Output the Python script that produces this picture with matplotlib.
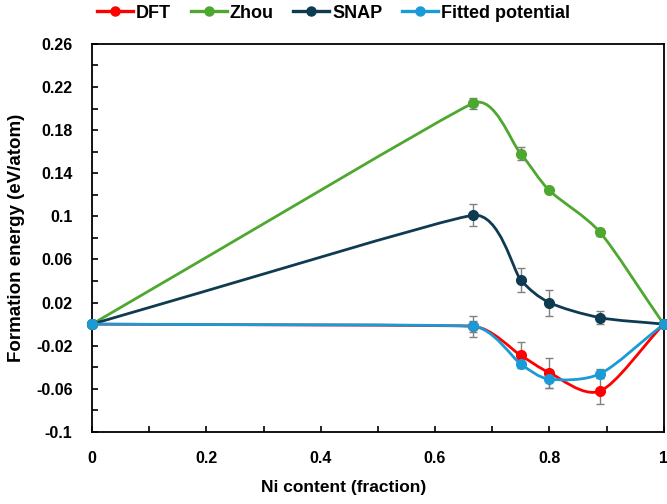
import numpy as np
import matplotlib.pyplot as plt
from matplotlib.path import Path
from matplotlib.patches import PathPatch
from matplotlib.lines import Line2D

plt.rcParams['font.family'] = ['Liberation Sans', 'DejaVu Sans']
plt.rcParams['font.weight'] = 'bold'

ni = [0, 0.667, 0.75, 0.8, 0.889, 1]

dft = [0, -0.002, -0.029, -0.045, -0.062, 0]
zhou = [0, 0.205, 0.158, 0.124, 0.085, 0]
snap = [0, 0.101, 0.041, 0.020, 0.006, 0]
fitted = [0, -0.002, -0.037, -0.051, -0.046, 0]

dft_err = [0, 0.010, 0.012, 0.014, 0.012, 0]
zhou_err = [0, 0.005, 0.006, 0, 0.003, 0]
snap_err = [0, 0.010, 0.011, 0.012, 0.006, 0]
fitted_err = [0, 0.005, 0.003, 0.008, 0.004, 0]

names = ['DFT', 'Zhou', 'SNAP', 'Fitted potential']
colors = ['#FF0000', '#4EA72E', '#0E3B52', '#1A9BD7']


def smooth_path(x, y, sx=573.0, sy=1075.0):
    # cubic bezier through the points; handle length limited by the
    # shorter neighbouring segment so long spans stay nearly straight
    p = np.column_stack([np.asarray(x) * sx, np.asarray(y) * sy])
    n = len(p)
    seg = [np.hypot(*(p[i + 1] - p[i])) for i in range(n - 1)]
    tang, hl = [], []
    for i in range(n):
        d = p[min(i + 1, n - 1)] - p[max(i - 1, 0)]
        tang.append(d / np.hypot(*d))
        near = [seg[j] for j in (i - 1, i) if 0 <= j < n - 1]
        hl.append(min(near) / 3.0)
    verts = [p[0]]
    codes = [Path.MOVETO]
    for i in range(n - 1):
        verts += [p[i] + tang[i] * hl[i], p[i + 1] - tang[i + 1] * hl[i + 1], p[i + 1]]
        codes += [Path.CURVE4] * 3
    verts = np.array(verts) / [sx, sy]
    return Path(verts, codes)


fig = plt.figure(figsize=(6.67, 5.04), dpi=100)
ax = fig.add_axes([0.138, 0.143, 0.857, 0.770])

series = [dft, zhou, snap, fitted]
errs = [dft_err, zhou_err, snap_err, fitted_err]
for vals, err, c in zip(series, errs, colors):
    ax.add_patch(PathPatch(smooth_path(ni, vals), fill=False, edgecolor=c,
                           lw=2.0, zorder=2, capstyle='round'))
    ax.errorbar(ni, vals, yerr=err, fmt='none', ecolor='#808080',
                elinewidth=1.0, capsize=3, capthick=1.0, zorder=3)
    ax.plot(ni, vals, 'o', color=c, ms=7, zorder=4, clip_on=False)

ax.set_xlim(0, 1)
ax.set_ylim(-0.1, 0.26)

yt = np.round(np.arange(-0.1, 0.2601, 0.02), 2)
ax.set_yticks(yt)
ax.set_yticklabels([f'{v:g}' if i % 2 == 0 else '' for i, v in enumerate(yt)])
xt = np.round(np.arange(0, 1.001, 0.1), 1)
ax.set_xticks(xt)
ax.set_xticklabels([f'{v:g}' if i % 2 == 0 else '' for i, v in enumerate(xt)])

ax.tick_params(direction='in', length=4, width=1.2, labelsize=11.5)
ax.tick_params(axis='y', pad=14)
ax.tick_params(axis='x', pad=14)
for s in ax.spines.values():
    s.set_linewidth(1.3)

ax.set_xlabel('Ni content (fraction)', fontsize=12.5, fontweight='bold')
ax.xaxis.set_label_coords(0.44, -0.125)
ax.set_ylabel('Formation energy (eV/atom)', fontsize=13.5, fontweight='bold', labelpad=8)

handles = [Line2D([], [], color=c, lw=2.4, marker='o', ms=6.5) for c in colors]
fig.legend(handles, names, loc='center', bbox_to_anchor=(0.5, 0.974), ncol=4,
           frameon=False, prop={'size': 13, 'weight': 'bold'},
           handlelength=2.0, handletextpad=0.15, columnspacing=1.1)

fig.savefig('out.png', dpi=100)
